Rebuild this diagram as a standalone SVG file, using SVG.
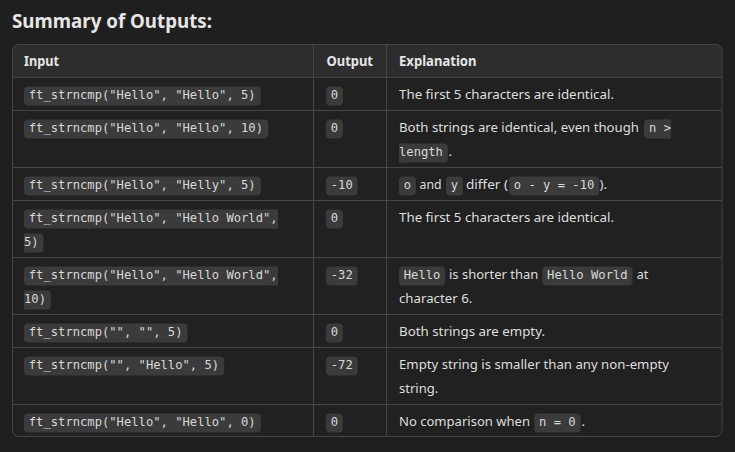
<svg xmlns="http://www.w3.org/2000/svg" width="735" height="452" viewBox="0 0 735 452">
<style>
.t{font-family:"Noto Sans","Open Sans",sans-serif;font-size:13.4px;fill:#dedede}
.b{font-weight:bold;fill:#e6e6e6;font-size:13.6px}
.m{font-family:"DejaVu Sans Mono","Liberation Mono",monospace;font-size:12.17px;fill:#d8d8d8}
.c{fill:#3b3b3b}
.ln{stroke:#454545;stroke-width:1;fill:none}
</style>
<defs>
<clipPath id="tc"><rect x="12.5" y="44.5" width="709.5" height="392" rx="6"/></clipPath>
</defs>
<rect width="735" height="452" fill="#1f1f1f"/>
<text class="t b" x="12" y="28" style="font-size:20px" textLength="200" lengthAdjust="spacingAndGlyphs">Summary of Outputs:</text>

<g id="table">
<rect x="12.5" y="44.5" width="709.5" height="392" rx="6" fill="#212121"/>
<rect x="12.5" y="44.5" width="709.5" height="33" fill="#2d2d2d" clip-path="url(#tc)"/>
</g>

<g id="grid" class="ln">
<rect x="12.5" y="44.5" width="709.5" height="392" rx="6"/>
<path d="M313.5 44.5V436.5M386.5 44.5V436.5M12.5 77.5H722M12.5 110.5H722M12.5 167.5H722M12.5 200.5H722M12.5 257.5H722M12.5 314.5H722M12.5 347.5H722M12.5 404.5H722"/>
</g>

<g id="header">
<text class="t b" x="24" y="65.5" textLength="35" lengthAdjust="spacingAndGlyphs">Input</text>
<text class="t b" x="326.5" y="65.5" textLength="46.5" lengthAdjust="spacingAndGlyphs">Output</text>
<text class="t b" x="399" y="65.5" textLength="77.5" lengthAdjust="spacingAndGlyphs">Explanation</text>
</g>

<g id="row1">
<rect class="c" x="24" y="86.5" width="236.8" height="19" rx="4"/>
<text class="m" x="28.8" y="98.5">ft_strncmp("Hello", "Hello", 5)</text>
<rect class="c" x="326" y="86.5" width="16.9" height="19" rx="4"/>
<text class="m" x="330.8" y="98.5">0</text>
<text class="t" x="399" y="98.5" textLength="215" lengthAdjust="spacingAndGlyphs">The first 5 characters are identical.</text>
</g>

<g id="row2">
<rect class="c" x="24" y="119.5" width="244.2" height="19" rx="4"/>
<text class="m" x="28.8" y="131.5">ft_strncmp("Hello", "Hello", 10)</text>
<rect class="c" x="326" y="119.5" width="16.9" height="19" rx="4"/>
<text class="m" x="330.8" y="131.5">0</text>
<text class="t" x="399" y="131.5" textLength="240" lengthAdjust="spacingAndGlyphs">Both strings are identical, even though</text>
<rect class="c" x="644" y="119.5" width="27" height="19" rx="4"/>
<rect class="c" x="664" y="119.5" width="7" height="19"/>
<text class="m" x="649" y="131.5">n &gt;</text>
<rect class="c" x="399" y="143.5" width="48.8" height="19" rx="4"/>
<rect class="c" x="399" y="143.5" width="7" height="19"/>
<text class="m" x="399" y="155.5">length</text>
<text class="t" x="448.5" y="155.5">.</text>
</g>

<g id="row3">
<rect class="c" x="24" y="176.5" width="236.8" height="19" rx="4"/>
<text class="m" x="28.8" y="188.5">ft_strncmp("Hello", "Helly", 5)</text>
<rect class="c" x="326" y="176.5" width="31.6" height="19" rx="4"/>
<text class="m" x="330.8" y="188.5">-10</text>
<rect class="c" x="399" y="176.5" width="16.9" height="19" rx="4"/>
<text class="m" x="403.8" y="188.5">o</text>
<text class="t" x="419.5" y="188.5" textLength="22" lengthAdjust="spacingAndGlyphs">and</text>
<rect class="c" x="446" y="176.5" width="16.9" height="19" rx="4"/>
<text class="m" x="450.8" y="188.5">y</text>
<text class="t" x="466" y="188.5" textLength="42" lengthAdjust="spacingAndGlyphs">differ (</text>
<rect class="c" x="509" y="176.5" width="90.2" height="19" rx="4"/>
<text class="m" x="513.8" y="188.5">o - y = -10</text>
<text class="t" x="599.5" y="188.5" textLength="7.5" lengthAdjust="spacingAndGlyphs">).</text>
</g>

<g id="row4">
<rect class="c" x="24" y="209.5" width="254" height="19" rx="4"/>
<rect class="c" x="270" y="209.5" width="8" height="19"/>
<text class="m" x="28.8" y="221.5">ft_strncmp("Hello", "Hello World",</text>
<rect class="c" x="24" y="233.5" width="19.5" height="19" rx="4"/>
<rect class="c" x="24" y="233.5" width="7" height="19"/>
<text class="m" x="24" y="245.5">5)</text>
<rect class="c" x="326" y="209.5" width="16.9" height="19" rx="4"/>
<text class="m" x="330.8" y="221.5">0</text>
<text class="t" x="399" y="221.5" textLength="215" lengthAdjust="spacingAndGlyphs">The first 5 characters are identical.</text>
</g>

<g id="row5">
<rect class="c" x="24" y="266.5" width="254" height="19" rx="4"/>
<rect class="c" x="270" y="266.5" width="8" height="19"/>
<text class="m" x="28.8" y="278.5">ft_strncmp("Hello", "Hello World",</text>
<rect class="c" x="24" y="290.5" width="26.8" height="19" rx="4"/>
<rect class="c" x="24" y="290.5" width="7" height="19"/>
<text class="m" x="24" y="302.5">10)</text>
<rect class="c" x="326" y="266.5" width="31.6" height="19" rx="4"/>
<text class="m" x="330.8" y="278.5">-32</text>
<rect class="c" x="399" y="266.5" width="46.25" height="19" rx="4"/>
<text class="m" x="403.8" y="278.5">Hello</text>
<text class="t" x="449" y="278.5" textLength="89.3" lengthAdjust="spacingAndGlyphs">is shorter than</text>
<rect class="c" x="542.3" y="266.5" width="90.2" height="19" rx="4"/>
<text class="m" x="547.1" y="278.5">Hello World</text>
<text class="t" x="636.7" y="278.5" textLength="11.6" lengthAdjust="spacingAndGlyphs">at</text>
<text class="t" x="399" y="302.5" textLength="73.3" lengthAdjust="spacingAndGlyphs">character 6.</text>
</g>

<g id="row6">
<rect class="c" x="24" y="323.5" width="163.5" height="19" rx="4"/>
<text class="m" x="28.8" y="335.5">ft_strncmp("", "", 5)</text>
<rect class="c" x="326" y="323.5" width="16.9" height="19" rx="4"/>
<text class="m" x="330.8" y="335.5">0</text>
<text class="t" x="399" y="335.5" textLength="146" lengthAdjust="spacingAndGlyphs">Both strings are empty.</text>
</g>

<g id="row7">
<rect class="c" x="24" y="356.5" width="200.2" height="19" rx="4"/>
<text class="m" x="28.8" y="368.5">ft_strncmp("", "Hello", 5)</text>
<rect class="c" x="326" y="356.5" width="31.6" height="19" rx="4"/>
<text class="m" x="330.8" y="368.5">-72</text>
<text class="t" x="399" y="368.5" textLength="270" lengthAdjust="spacingAndGlyphs">Empty string is smaller than any non-empty</text>
<text class="t" x="399" y="392.5" textLength="39.3" lengthAdjust="spacingAndGlyphs">string.</text>
</g>

<g id="row8">
<rect class="c" x="24" y="413.5" width="236.8" height="19" rx="4"/>
<text class="m" x="28.8" y="425.5">ft_strncmp("Hello", "Hello", 0)</text>
<rect class="c" x="326" y="413.5" width="16.9" height="19" rx="4"/>
<text class="m" x="330.8" y="425.5">0</text>
<text class="t" x="399" y="425.5" textLength="131" lengthAdjust="spacingAndGlyphs">No comparison when</text>
<rect class="c" x="534.3" y="413.5" width="46.25" height="19" rx="4"/>
<text class="m" x="539.1" y="425.5">n = 0</text>
<text class="t" x="581.5" y="425.5">.</text>
</g>
</svg>
